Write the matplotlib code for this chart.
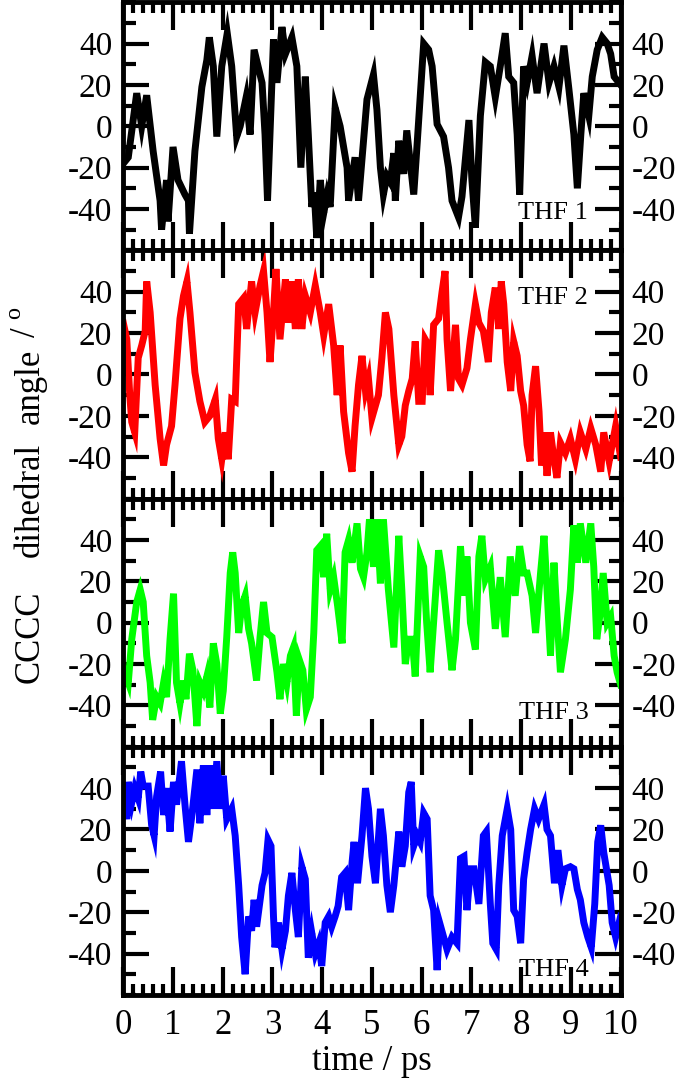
import numpy as np
import matplotlib
matplotlib.use("Agg")
import matplotlib.pyplot as plt
from matplotlib.ticker import MultipleLocator

# Fuente tipo Times y guion normal en los negativos
plt.rcParams['font.family'] = ['Liberation Serif', 'DejaVu Serif']
plt.rcParams['mathtext.fontset'] = 'custom'
plt.rcParams['mathtext.rm'] = 'Liberation Serif'
plt.rcParams['axes.unicode_minus'] = False

# THF 1
t1 = [0.0, 0.1, 0.27, 0.37, 0.47, 0.6, 0.74, 0.77, 0.87, 0.9, 1.0, 1.1, 1.24, 1.31, 1.33,
      1.44, 1.58, 1.68, 1.73, 1.81, 1.88, 1.98, 2.09, 2.18, 2.28, 2.35, 2.47, 2.55, 2.63,
      2.79, 2.85, 2.9, 3.02, 3.09, 3.19, 3.26, 3.39, 3.49, 3.57, 3.66, 3.72, 3.79, 3.84,
      3.89, 3.96, 4.03, 4.1, 4.16, 4.26, 4.36, 4.5, 4.53, 4.66, 4.73, 4.9, 5.03, 5.1, 5.17,
      5.23, 5.3, 5.37, 5.44, 5.47, 5.54, 5.64, 5.7, 5.84, 5.91, 6.04, 6.14, 6.21, 6.31,
      6.44, 6.54, 6.61, 6.74, 6.81, 6.95, 7.01, 7.08, 7.18, 7.28, 7.38, 7.48, 7.58, 7.68,
      7.75, 7.85, 7.92, 7.97, 8.05, 8.12, 8.22, 8.32, 8.46, 8.56, 8.66, 8.76, 8.86, 8.96,
      9.06, 9.13, 9.2, 9.26, 9.36, 9.43, 9.53, 9.63, 9.73, 9.8, 9.87, 10.0]
a1 = [-18, -15, 16, 0, 15, -12, -36, -50, -26, -46, -10, -26, -33, -36, -52,
      -12, 19, 32, 43, 29, -5, 29, 45, 29, -5, 0, 14, -4, 37,
      21, -4, -36, 42, 21, 48, 35, 43, 29, -20, 24, -4, -39, -32,
      -54, -26, -42, -33, -39, 9, 0, -20, -36, -15, -36, 13, 25, 8, -20,
      -33, -24, -27, -13, -36, -7, -23, -2, -33, -8, 40, 37, 29, 1,
      -5, -20, -36, -44, -34, 3, -26, -49, 5, 31, 29, 14, 29, 45,
      24, 21, -4, -33, 29, 21, 34, 16, 40, 21, 29, 19, 39, 18,
      -4, -30, -4, 16, 5, 24, 37, 43, 40, 35, 24, 20]

# THF 2
t2 = [0.0, 0.07, 0.13, 0.17, 0.23, 0.3, 0.37, 0.44, 0.47, 0.54, 0.64, 0.74, 0.81, 0.87,
      0.97, 1.04, 1.14, 1.21, 1.28, 1.34, 1.44, 1.54, 1.64, 1.74, 1.85, 1.91, 1.98, 2.05,
      2.11, 2.18, 2.25, 2.32, 2.42, 2.48, 2.58, 2.65, 2.75, 2.82, 2.89, 2.95, 3.02, 3.07,
      3.15, 3.26, 3.32, 3.39, 3.46, 3.52, 3.59, 3.66, 3.76, 3.86, 3.96, 4.03, 4.13, 4.23,
      4.3, 4.36, 4.43, 4.53, 4.6, 4.66, 4.73, 4.8, 4.87, 4.93, 5.0, 5.07, 5.13, 5.2, 5.27,
      5.34, 5.44, 5.54, 5.6, 5.67, 5.74, 5.81, 5.87, 5.94, 6.01, 6.07, 6.14, 6.17, 6.24,
      6.34, 6.41, 6.47, 6.51, 6.58, 6.68, 6.74, 6.81, 6.91, 6.98, 7.08, 7.15, 7.24, 7.34,
      7.4, 7.48, 7.55, 7.6, 7.65, 7.72, 7.79, 7.85, 7.92, 7.99, 8.05, 8.12, 8.18, 8.22,
      8.29, 8.36, 8.41, 8.46, 8.52, 8.59, 8.66, 8.72, 8.79, 8.89, 8.99, 9.09, 9.19, 9.3,
      9.4, 9.5, 9.6, 9.66, 9.77, 9.83, 9.9, 10.0]
a2 = [25, 17, -10, -23, -28, 8, 14, 21, 45, 30, -5, -31, -44, -34,
      -25, -5, 27, 38, 45, 30, 1, -13, -23, -20, -12, -31, -41, -28,
      -41, -12, -13, 34, 37, 22, 45, 30, 43, 50, 30, 6, 30, 51,
      17, 46, 25, 45, 22, 46, 22, 38, 30, 43, 30, 19, 34, 14,
      -10, 14, -18, -38, -47, -25, -5, 9, -8, -2, -21, -15, -10, 8, 30,
      22, -10, -34, -30, -15, -8, -2, 16, -13, -13, 17, 14, -10, 24,
      27, 40, 50, 17, -8, 24, -2, -5, 3, 17, 34, 25, 21, 6,
      30, 42, 22, 45, 34, 6, -8, 16, 9, -8, -15, -34, -42, -10,
      4, -18, -44, -28, -49, -28, -41, -50, -33, -38, -31, -41, -28, -36,
      -26, -34, -47, -28, -42, -34, -25, -40]

# THF 3
t3 = [0.0, 0.1, 0.17, 0.27, 0.34, 0.4, 0.47, 0.54, 0.59, 0.67, 0.74, 0.81, 0.87, 0.94,
      1.01, 1.07, 1.14, 1.21, 1.26, 1.33, 1.4, 1.48, 1.54, 1.61, 1.68, 1.74, 1.81, 1.88,
      1.95, 2.01, 2.08, 2.15, 2.2, 2.25, 2.32, 2.38, 2.45, 2.52, 2.58, 2.68, 2.75, 2.82,
      2.89, 2.99, 3.09, 3.15, 3.22, 3.29, 3.36, 3.42, 3.48, 3.54, 3.61, 3.68, 3.76, 3.83,
      3.89, 3.96, 4.03, 4.09, 4.16, 4.23, 4.31, 4.4, 4.46, 4.53, 4.6, 4.7, 4.77, 4.83,
      4.9, 4.95, 5.03, 5.1, 5.17, 5.23, 5.33, 5.44, 5.54, 5.6, 5.67, 5.74, 5.81, 5.87,
      5.97, 6.04, 6.1, 6.17, 6.24, 6.34, 6.41, 6.51, 6.61, 6.68, 6.78, 6.85, 6.91, 6.98,
      7.08, 7.15, 7.21, 7.28, 7.38, 7.48, 7.58, 7.68, 7.78, 7.88, 7.97, 8.05, 8.12, 8.22,
      8.29, 8.39, 8.46, 8.52, 8.59, 8.66, 8.72, 8.79, 8.89, 8.99, 9.06, 9.13, 9.19, 9.3,
      9.4, 9.46, 9.52, 9.58, 9.65, 9.73, 9.8, 9.87, 9.93, 10.0]
a3 = [-22, -29, -8, 10, 16, 10, -16, -29, -47, -36, -39, -29, -36, -8,
      14, -29, -39, -28, -37, -15, -23, -50, -29, -33, -26, -41, -10, -20,
      -44, -33, -7, 24, 34, 24, -5, 8, 13, -3, -10, -28, -7, 10,
      -5, -7, -24, -37, -20, -29, -16, -12, -45, -18, -23, -42, -36, -5,
      35, 37, 22, 43, 16, 22, 8, -10, 34, 40, 29, 48, 26, 22,
      34, 50, 27, 50, 19, 50, 16, -12, 42, 16, -20, -8, -8, -26,
      32, 27, 0, -24, 0, 35, 24, 0, -23, -8, 37, 13, 32, 0,
      -13, 32, 42, 21, 27, -3, 22, -7, 32, 13, 37, 24, 24, 13,
      -5, 24, 42, 16, -16, 29, 3, -24, -8, 16, 47, 29, 48, 29,
      48, 27, -8, 3, 24, 0, 3, -16, -24, -30]

# THF 4
t4 = [0.0, 0.07, 0.1, 0.17, 0.23, 0.3, 0.35, 0.4, 0.5, 0.57, 0.62, 0.67, 0.75, 0.81,
      0.87, 0.94, 1.01, 1.07, 1.17, 1.24, 1.31, 1.38, 1.48, 1.54, 1.61, 1.68, 1.74, 1.81,
      1.88, 1.95, 2.01, 2.08, 2.18, 2.25, 2.32, 2.38, 2.45, 2.52, 2.58, 2.63, 2.68, 2.79,
      2.85, 2.91, 2.97, 3.02, 3.05, 3.12, 3.19, 3.26, 3.32, 3.39, 3.46, 3.52, 3.59, 3.66,
      3.72, 3.79, 3.86, 3.93, 3.99, 4.06, 4.13, 4.19, 4.26, 4.32, 4.39, 4.46, 4.53, 4.6,
      4.64, 4.71, 4.8, 4.87, 4.93, 5.0, 5.07, 5.17, 5.23, 5.3, 5.37, 5.44, 5.54, 5.6,
      5.67, 5.74, 5.79, 5.84, 5.91, 5.97, 6.04, 6.11, 6.17, 6.24, 6.31, 6.36, 6.44, 6.51,
      6.61, 6.71, 6.78, 6.85, 6.91, 6.98, 7.05, 7.15, 7.24, 7.3, 7.38, 7.43, 7.5, 7.55,
      7.62, 7.72, 7.79, 7.85, 7.92, 7.99, 8.05, 8.12, 8.19, 8.27, 8.35, 8.46, 8.52, 8.59,
      8.67, 8.74, 8.82, 8.89, 8.99, 9.06, 9.13, 9.19, 9.26, 9.34, 9.41, 9.48, 9.54, 9.6,
      9.66, 9.77, 9.83, 9.9, 10.0]
a4 = [38, 25, 43, 33, 40, 35, 48, 41, 41, 22, 17, 36, 48, 27,
      40, 19, 43, 32, 53, 32, 14, 27, 49, 23, 51, 27, 51, 30,
      53, 30, 46, 25, 30, 17, -7, -32, -50, -22, -29, -14, -27, -7,
      -1, 15, 12, -22, -37, -25, -38, -29, -12, -1, -19, -32, 2, -4,
      -42, -30, -40, -35, -46, -25, -22, -27, -22, -17, -3, -1, -19, 4,
      14, -6, 17, 40, 30, 7, -6, 30, 17, -7, -20, -7, 19, 2,
      12, 38, 43, 12, 17, 14, 28, 25, -12, -19, -48, -25, -32, -38,
      -32, -35, 6, 7, -19, 1, 1, -16, 17, 19, -16, -35, -38, -7,
      17, 30, 20, -19, -22, -35, -4, 9, 20, 30, 25, 32, 20, 17,
      -6, 10, -7, 1, 2, 1, -9, -14, -25, -32, -37, -16, 14, 22,
      9, -7, -25, -32, -22]

tiempos = [t1, t2, t3, t4]
angulos = [a1, a2, a3, a4]
colores = ['black', '#ff0000', '#00ff00', '#0000ff']
etiquetas = ['THF 1', 'THF 2', 'THF 3', 'THF 4']
pos_etiqueta = [0.15, 0.81, 0.135, 0.1]

fig = plt.figure(figsize=(6.85, 10.85), dpi=100)
gs = fig.add_gridspec(4, 1, left=0.18, right=0.906, bottom=0.083, top=0.998, hspace=0)
ejes = [fig.add_subplot(gs[i]) for i in range(4)]

for i, ax in enumerate(ejes):
    ax.plot(tiempos[i], angulos[i], color=colores[i], lw=5, solid_joinstyle='miter')
    ax.set_xlim(0, 10)
    ax.set_ylim(-60, 60)
    ax.set_yticks([-40, -20, 0, 20, 40])
    ax.yaxis.set_minor_locator(MultipleLocator(10))
    ax.xaxis.set_major_locator(MultipleLocator(1))
    ax.xaxis.set_minor_locator(MultipleLocator(0.2))
    ax.tick_params(which='both', direction='in', top=True, bottom=True,
                   left=True, right=True, labelright=True, width=3, labelsize=24)
    ax.tick_params(axis='y', which='major', length=19, pad=8)
    ax.tick_params(axis='y', which='minor', length=9)
    ax.tick_params(axis='x', which='major', length=20, pad=10, labelsize=25)
    ax.tick_params(axis='x', which='minor', length=8)
    if i < 3:
        ax.tick_params(axis='x', labelbottom=False)
    for s in ax.spines.values():
        s.set_linewidth(3.5)
    ax.text(0.935, pos_etiqueta[i], etiquetas[i], transform=ax.transAxes,
            ha='right', va='center', fontsize=19)

ejes[-1].set_xlabel('time / ps', fontsize=25, labelpad=2)

# Etiqueta del eje y, repartida como en el original
fig.text(0.044, 0.413, 'CCCC', rotation=90, ha='center', va='center', fontsize=25)
fig.text(0.044, 0.539, 'dihedral', rotation=90, ha='center', va='center', fontsize=25)
fig.text(0.044, 0.644, 'angle', rotation=90, ha='center', va='center', fontsize=25)
fig.text(0.040, 0.703, r'/ $^{\mathrm{o}}$', rotation=90, ha='center', va='center', fontsize=25)

fig.savefig('out.png', dpi=100)
